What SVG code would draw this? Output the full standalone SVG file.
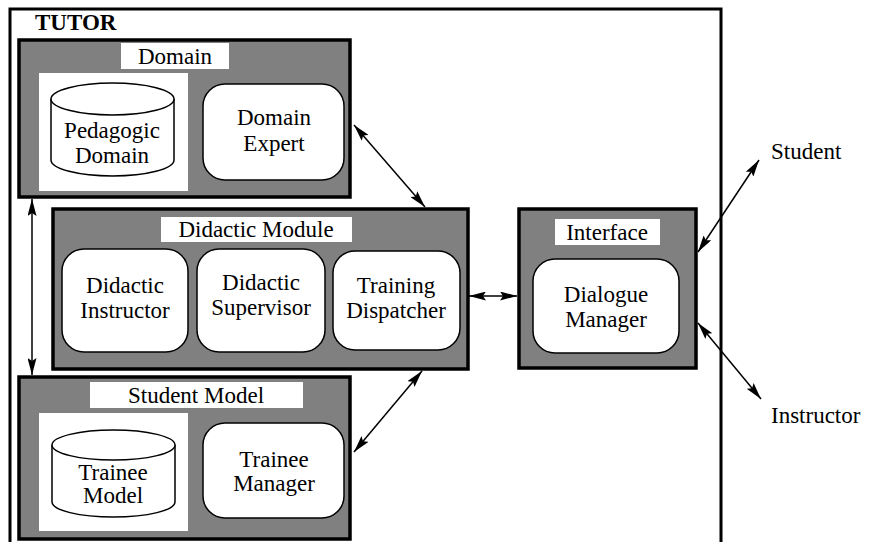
<svg xmlns="http://www.w3.org/2000/svg" width="871" height="542" viewBox="0 0 871 542">
<defs>
<marker id="ah" viewBox="0 0 17 9" refX="17" refY="4.5" markerWidth="17" markerHeight="9" markerUnits="userSpaceOnUse" orient="auto-start-reverse">
<path d="M0,0 L17,4.5 L0,9 L3,4.5 z" fill="#000"/>
</marker>
<style>
.mod{fill:#808080;stroke:#000;stroke-width:3.5}
.lbl{fill:#fff;stroke:none}
.sub{fill:#fff;stroke:#000;stroke-width:1.5}
text{font-family:'Liberation Serif','Times New Roman',Times,serif;font-size:23px;fill:#000}
.t{text-anchor:middle}
.conn line{stroke:#000;stroke-width:1.5;marker-start:url(#ah);marker-end:url(#ah)}
</style>
</defs>
<rect width="871" height="542" fill="#fff"/>
<g id="tutor">
<path d="M10,545 L10,9 L721,9 L721,545" fill="none" stroke="#000" stroke-width="3"/>
<text x="35" y="30" font-weight="bold">TUTOR</text>
</g>
<g id="domain">
<rect class="mod" x="19" y="40" width="331" height="157"/>
<rect class="lbl" x="121" y="43" width="108" height="26"/>
<text class="t" x="175" y="64">Domain</text>
</g>
<g id="pedagogic-domain">
<rect class="lbl" x="39" y="73" width="149" height="118"/>
<path class="sub" d="M51,99 L51,160 A61.5,16 0 0 0 174,160 L174,99"/>
<ellipse class="sub" cx="112.5" cy="99" rx="61.5" ry="16"/>
<text class="t" x="112" y="138">Pedagogic</text>
<text class="t" x="112" y="163">Domain</text>
</g>
<g id="domain-expert">
<rect class="sub" x="203" y="84" width="141" height="96" rx="22"/>
<text class="t" x="274" y="125">Domain</text>
<text class="t" x="274" y="151">Expert</text>
</g>
<g id="didactic-module">
<rect class="mod" x="53" y="209" width="415" height="160"/>
<rect class="lbl" x="161" y="217" width="191" height="25"/>
<text class="t" x="256" y="237">Didactic Module</text>
</g>
<g id="didactic-instructor">
<rect class="sub" x="62" y="249" width="126" height="103" rx="22"/>
<text class="t" x="125" y="293">Didactic</text>
<text class="t" x="125" y="318">Instructor</text>
</g>
<g id="didactic-supervisor">
<rect class="sub" x="197" y="249" width="128" height="103" rx="22"/>
<text class="t" x="261" y="290">Didactic</text>
<text class="t" x="261" y="315">Supervisor</text>
</g>
<g id="training-dispatcher">
<rect class="sub" x="333" y="251" width="127" height="99" rx="22"/>
<text class="t" x="396" y="293">Training</text>
<text class="t" x="396" y="318">Dispatcher</text>
</g>
<g id="student-model">
<rect class="mod" x="19" y="377" width="331" height="162"/>
<rect class="lbl" x="90" y="382" width="213" height="26"/>
<text class="t" x="196" y="403">Student Model</text>
</g>
<g id="trainee-model">
<rect class="lbl" x="39" y="413" width="149" height="118"/>
<path class="sub" d="M52,445 L52,502 A61.5,15 0 0 0 175,502 L175,445"/>
<ellipse class="sub" cx="113.5" cy="445" rx="61.5" ry="15"/>
<text class="t" x="113" y="480">Trainee</text>
<text class="t" x="113" y="503">Model</text>
</g>
<g id="trainee-manager">
<rect class="sub" x="203" y="423" width="141" height="95" rx="22"/>
<text class="t" x="274" y="467">Trainee</text>
<text class="t" x="274" y="491">Manager</text>
</g>
<g id="interface">
<rect class="mod" x="519" y="209" width="177" height="159"/>
<rect class="lbl" x="555" y="219" width="105" height="26"/>
<text class="t" x="607" y="240">Interface</text>
</g>
<g id="dialogue-manager">
<rect class="sub" x="533" y="259" width="146" height="94" rx="22"/>
<text class="t" x="606" y="302">Dialogue</text>
<text class="t" x="606" y="327">Manager</text>
</g>
<g id="student">
<text x="771" y="159">Student</text>
</g>
<g id="instructor">
<text x="771" y="423">Instructor</text>
</g>
<g id="connectors" class="conn">
<line x1="32" y1="199" x2="32" y2="375"/>
<line x1="354" y1="125" x2="425" y2="207"/>
<line x1="422" y1="371" x2="354" y2="452"/>
<line x1="469" y1="296" x2="517" y2="296"/>
<line x1="698" y1="252" x2="759" y2="160"/>
<line x1="698" y1="323" x2="761" y2="399"/>
</g>
</svg>
